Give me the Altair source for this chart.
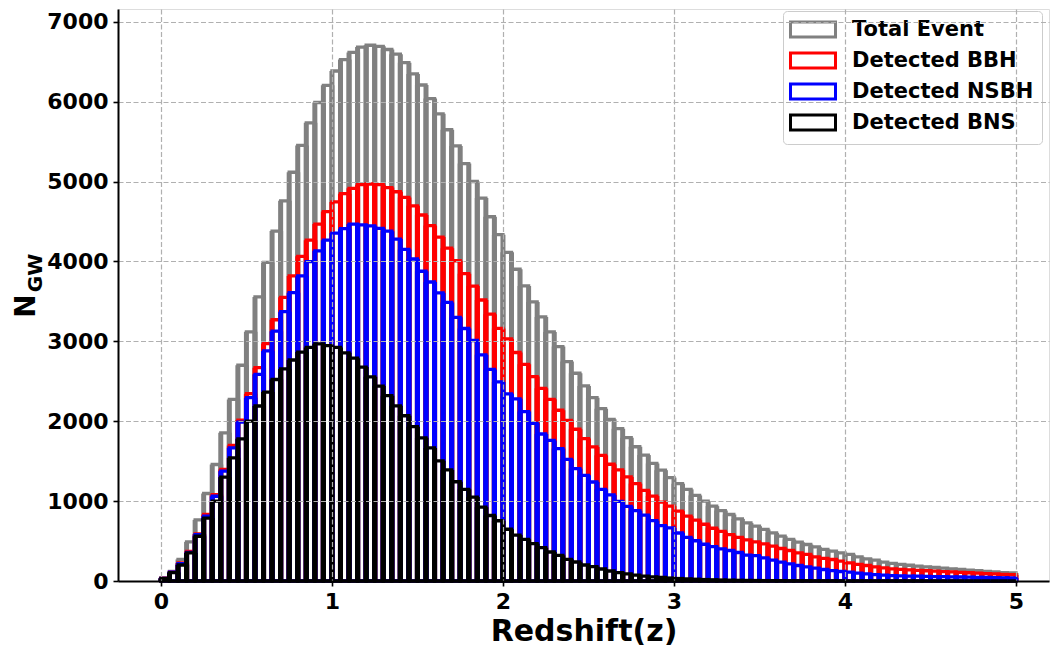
import altair as alt
import pandas as pd

# ---------------- data ----------------
bin_width = 0.05
n_bins = 100
z_start = [round(i * bin_width, 2) for i in range(n_bins)]

total = [40, 120, 270, 490, 765, 1095, 1458, 1855, 2273, 2700,
         3118, 3556, 3987, 4380, 4758, 5116, 5452, 5734, 5989, 6204,
         6383, 6526, 6616, 6683, 6705, 6692, 6652, 6594, 6487, 6347,
         6208, 6038, 5847, 5648, 5445, 5225, 5000, 4792, 4559, 4335,
         4114, 3902, 3693, 3493, 3305, 3117, 2934, 2746, 2600, 2441,
         2295, 2157, 2024, 1907, 1794, 1680, 1576, 1471, 1387, 1294,
         1218, 1147, 1071, 1000, 937, 882, 832, 777, 727, 686,
         645, 603, 561, 520, 486, 457, 428, 395, 374, 353,
         332, 303, 278, 261, 236, 220, 208, 197, 187, 178,
         169, 160, 152, 144, 136, 128, 120, 113, 106, 100]

bbh = [35, 112, 226, 372, 589, 832, 1082, 1396, 1697, 2014,
       2344, 2670, 2971, 3270, 3550, 3818, 4064, 4266, 4467, 4624,
       4745, 4848, 4915, 4960, 4969, 4960, 4924, 4872, 4801, 4695,
       4581, 4449, 4305, 4165, 4008, 3847, 3691, 3517, 3339, 3161,
       3030, 2860, 2712, 2558, 2412, 2274, 2137, 2011, 1899, 1782,
       1678, 1573, 1461, 1390, 1302, 1219, 1134, 1063, 987, 937,
       874, 811, 761, 710, 660, 620, 580, 545, 515, 490,
       465, 436, 407, 382, 353, 332, 303, 282, 269, 249,
       228, 207, 194, 177, 165, 152, 146, 140, 134, 128,
       123, 118, 113, 108, 103, 98, 93, 88, 83, 78]

nsbh = [33, 110, 217, 359, 581, 811, 1061, 1375, 1667, 1989,
        2294, 2587, 2879, 3127, 3371, 3608, 3818, 3997, 4132, 4266,
        4355, 4409, 4467, 4458, 4445, 4413, 4378, 4280, 4150, 4030,
        3877, 3742, 3606, 3487, 3300, 3160, 3010, 2831, 2648, 2492,
        2343, 2280, 2120, 1974, 1840, 1760, 1657, 1523, 1406, 1323,
        1239, 1148, 1077, 997, 935, 880, 824, 756, 693, 664,
        601, 546, 504, 460, 430, 403, 382, 357, 324, 318,
        290, 261, 236, 215, 194, 177, 161, 144, 131, 119,
        110, 98, 90, 81, 73, 68, 65, 62, 60, 58,
        56, 54, 52, 50, 48, 46, 44, 42, 40, 38]

bns = [30, 105, 200, 351, 560, 786, 999, 1300, 1542, 1780,
       2002, 2190, 2365, 2522, 2654, 2766, 2865, 2923, 2968, 2945,
       2923, 2856, 2789, 2677, 2556, 2440, 2319, 2192, 2068, 1932,
       1792, 1665, 1504, 1390, 1242, 1148, 1051, 924, 820, 754,
       648, 575, 522, 467, 417, 363, 321, 271, 238, 200,
       180, 150, 125, 105, 88, 74, 62, 52, 44, 37,
       31, 26, 22, 18, 15, 12, 10, 8, 7, 6,
       5, 4, 4, 3, 3, 3, 2, 2, 2, 2,
       1, 1, 1, 1, 1, 1, 1, 1, 1, 1,
       0, 0, 0, 0, 0, 0, 0, 0, 0, 0]

series_names = ["Total Event", "Detected BBH", "Detected NSBH", "Detected BNS"]
series_colors = ["#808080", "#ff0000", "#0000ff", "#000000"]
series_values = [total, bbh, nsbh, bns]

x_ticks = [0, 1, 2, 3, 4, 5]
y_ticks = [0, 1000, 2000, 3000, 4000, 5000, 6000, 7000]

for v in series_values:
    assert len(v) == n_bins

# ---------------- styling ----------------
FONT = "DejaVu Sans"
PLOT_W, PLOT_H = 931, 572
X_DOMAIN = [-0.251, 5.193]
Y_DOMAIN = [0, 7159]

color_scale = alt.Scale(domain=series_names, range=series_colors)
x_scale = alt.Scale(domain=X_DOMAIN, nice=False, zero=False)
y_scale = alt.Scale(domain=Y_DOMAIN, nice=False)

legend = alt.Legend(
    title=None, orient="none", legendX=665, legendY=2,
    symbolType="M-3,-1H3V1H-3Z", symbolSize=225, symbolStrokeWidth=3,
    symbolFillColor="white", symbolOpacity=1,
    symbolOffset=11.5, labelOffset=28.5,
    labelFont=FONT, labelFontSize=21, labelFontWeight="bold", labelColor="black",
    labelLimit=0, padding=8, rowPadding=4,
    fillColor="rgba(255,255,255,0.85)", strokeColor="#cccccc", cornerRadius=4,
)

x_axis = alt.Axis(
    values=x_ticks, format="d", title="Redshift(z)",
    labelFont=FONT, labelFontSize=22, labelFontWeight="bold", labelColor="black",
    labelPadding=5, tickColor="black", tickSize=5, tickWidth=1.6,
    domainColor="black", domainWidth=2,
    grid=True, gridColor="#b0b0b0", gridDash=[5, 2.5], gridWidth=1.2,
    titleFont=FONT, titleFontSize=30, titleFontWeight="bold", titleColor="black",
    titlePadding=4, zindex=1,
)
y_axis = alt.Axis(
    values=y_ticks, format="d", title=None,
    labelFont=FONT, labelFontSize=22, labelFontWeight="bold", labelColor="black",
    labelPadding=5, tickColor="black", tickSize=5, tickWidth=1.6,
    domainColor="black", domainWidth=2,
    grid=True, gridColor="#b0b0b0", gridDash=[5, 2.5], gridWidth=1.2,
    zindex=1,
)

layers = []
for idx, (name, vals) in enumerate(zip(series_names, series_values)):
    bars = pd.DataFrame({
        "series": name,
        "start": z_start,
        "end": [round(s + bin_width, 2) for s in z_start],
        "value": vals,
        "base": 0,
    })
    edges = pd.DataFrame({
        "series": name,
        "x": z_start + [round(s + bin_width, 2) for s in z_start],
        "value": list(vals) + list(vals),
        "base": 0,
    })
    if idx == 0:
        xenc = alt.X("start:Q", scale=x_scale, axis=x_axis)
        yenc = alt.Y("value:Q", scale=y_scale, axis=y_axis)
    else:
        xenc = alt.X("start:Q", scale=x_scale)
        yenc = alt.Y("value:Q", scale=y_scale)
    bar_layer = alt.Chart(bars).mark_bar(filled=False, strokeWidth=3.3).encode(
        x=xenc,
        x2="end:Q",
        y=yenc,
        y2="base:Q",
        color=alt.Color("series:N", scale=color_scale, legend=legend),
    )
    edge_layer = alt.Chart(edges).mark_rule(strokeWidth=5).encode(
        x=alt.X("x:Q", scale=x_scale),
        y=alt.Y("value:Q", scale=y_scale),
        y2="base:Q",
        color=alt.Color("series:N", scale=color_scale, legend=legend),
    )
    layers += [bar_layer, edge_layer]

ylabel_df = pd.DataFrame({"t": ["N"]})
ysub_df = pd.DataFrame({"t": ["GW"]})
ylab_main = alt.Chart(ylabel_df).mark_text(
    angle=270, align="center", baseline="alphabetic",
    font=FONT, fontSize=28, fontWeight="bold", color="black",
).encode(text="t:N", x=alt.value(-83), y=alt.value(297))
ylab_sub = alt.Chart(ysub_df).mark_text(
    angle=270, align="center", baseline="alphabetic",
    font=FONT, fontSize=20, fontWeight="bold", color="black",
).encode(text="t:N", x=alt.value(-76), y=alt.value(264))

chart = alt.layer(*layers, ylab_main, ylab_sub).properties(
    width=PLOT_W, height=PLOT_H,
    autosize=alt.AutoSizeParams(type="none"),
    padding={"left": 110, "top": 1, "right": 2, "bottom": 67},
).configure_view(
    stroke="black", strokeWidth=2
).configure(background="white")

chart.save("out.html", embed_options={"renderer": "svg", "actions": False})
